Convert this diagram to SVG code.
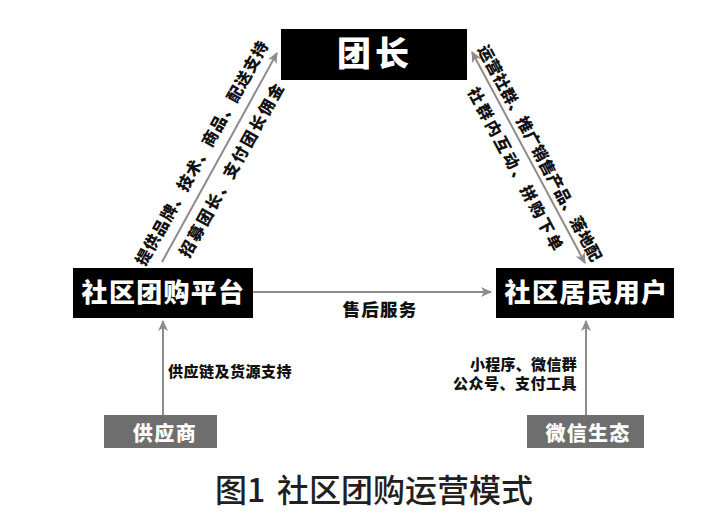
<svg xmlns="http://www.w3.org/2000/svg" width="709" height="524" viewBox="0 0 709 524">
<style>
text{font-family:"Noto Sans CJK SC","Noto Sans",sans-serif;}
.blk{fill:#000;}
.gry{fill:#6e6e6e;}
.bt{fill:#fff;font-weight:900;text-anchor:middle;}
.lbl{fill:#111;font-weight:900;}
.dl{fill:#111;font-weight:900;font-size:16px;text-anchor:middle;}
.ln{stroke:#8c8c8c;stroke-width:2;fill:none;}
</style>
<defs>
<marker id="ah" markerUnits="userSpaceOnUse" markerWidth="12" markerHeight="11" refX="10" refY="5" orient="auto-start-reverse" viewBox="0 0 12 10">
<path d="M0,0 L11,5 L0,10 L3,5 z" fill="#8c8c8c"/>
</marker>
</defs>
<rect width="709" height="524" fill="#fff"/>
<g id="connectors">
<line class="ln" x1="162" y1="262" x2="277" y2="53" marker-end="url(#ah)"/>
<line class="ln" x1="472" y1="52" x2="585" y2="263" marker-start="url(#ah)" marker-end="url(#ah)"/>
<line class="ln" x1="253" y1="292" x2="491" y2="292" marker-end="url(#ah)"/>
<line class="ln" x1="163" y1="415" x2="163" y2="321" marker-end="url(#ah)"/>
<line class="ln" x1="586" y1="415" x2="586" y2="321" marker-end="url(#ah)"/>
<text class="dl" transform="translate(202.1,152.9) rotate(-60.85)" y="5.8" letter-spacing="1">提供品牌、技术、商品、配送支持</text>
<text class="dl" transform="translate(231.9,169.5) rotate(-60.85)" y="5.8" letter-spacing="2">招募团长、支付团长佣金</text>
<text class="dl" transform="translate(539.9,153.3) rotate(61.8)" y="5.8" letter-spacing="0.2">运营社群、推广销售产品、落地配</text>
<text class="dl" transform="translate(516,170.1) rotate(61.8)" y="5.8" letter-spacing="2.5">社群内互动、拼购下单</text>
<text class="lbl" x="380" y="315.5" font-size="17.5" text-anchor="middle" letter-spacing="1.2">售后服务</text>
<text class="lbl" x="168" y="377" font-size="15" letter-spacing="0.5">供应链及货源支持</text>
<text class="lbl" x="577" y="369.5" font-size="15" text-anchor="end" letter-spacing="0.3">小程序、微信群</text>
<text class="lbl" x="577" y="389" font-size="15" text-anchor="end" letter-spacing="0.5">公众号、支付工具</text>
</g>
<g id="node-tuanzhang">
<rect class="blk" x="281" y="29" width="186" height="51"/>
<text class="bt" x="375" y="65.7" font-size="34" letter-spacing="4">团长</text>
</g>
<g id="node-platform">
<rect class="blk" x="73" y="268" width="180" height="50"/>
<text class="bt" x="163.5" y="302.4" font-size="26" letter-spacing="1.3">社区团购平台</text>
</g>
<g id="node-residents">
<rect class="blk" x="496" y="268" width="178" height="50"/>
<text class="bt" x="586.5" y="302.4" font-size="26" letter-spacing="1.3">社区居民用户</text>
</g>
<g id="node-supplier">
<rect class="gry" x="104" y="415" width="113" height="33"/>
<text class="bt" x="165" y="440.7" font-size="20" letter-spacing="1.5">供应商</text>
</g>
<g id="node-wechat">
<rect class="gry" x="527" y="415" width="117" height="33"/>
<text class="bt" x="588" y="440.7" font-size="20" letter-spacing="1.3">微信生态</text>
</g>
<g id="caption">
<text x="215" y="501.5" font-size="32" font-weight="500" fill="#231f20"><tspan>图1</tspan><tspan x="277">社区团购运营模式</tspan></text>
</g>
</svg>
